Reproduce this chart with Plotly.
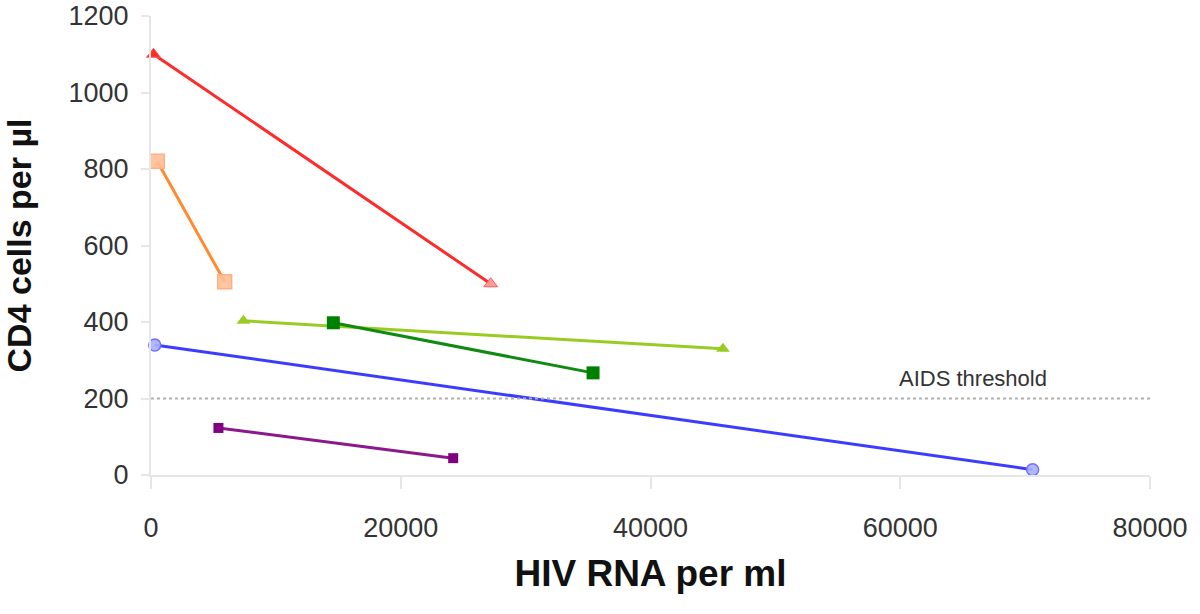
import plotly.graph_objects as go

# Data: each patient has two measurements (HIV RNA per ml, CD4 cells per µl)
red_x = [200, 27200]
red_y = [1100, 500]
orange_x = [500, 5900]
orange_y = [820, 505]
lightgreen_x = [7400, 45800]
lightgreen_y = [403, 330]
darkgreen_x = [14600, 35400]
darkgreen_y = [398, 267]
blue_x = [300, 70600]
blue_y = [340, 14]
purple_x = [5400, 24200]
purple_y = [123, 44]

threshold = 200
threshold_label = "AIDS threshold"
x_ticks = [0, 20000, 40000, 60000, 80000]
y_ticks = [0, 200, 400, 600, 800, 1000, 1200]

series = [
    (red_x, red_y, "#ff2a2a", dict(symbol="triangle-up", size=12, color=["#ff2a2a", "#ff9a9a"], line=dict(width=1, color="#ff5a5a"))),
    (orange_x, orange_y, "#ff8a30", dict(symbol="square", size=14, color="rgba(255,190,150,0.9)", line=dict(width=1.5, color="#ffb080"))),
    (lightgreen_x, lightgreen_y, "#99cc22", dict(symbol="triangle-up", size=12, color="#99cc22", line=dict(width=0))),
    (darkgreen_x, darkgreen_y, "#108a10", dict(symbol="square", size=13, color="#008000", line=dict(width=0))),
    (blue_x, blue_y, "#3c3cff", dict(symbol="circle", size=12, color="rgba(170,175,255,0.9)", line=dict(width=1.5, color="#7070ff"))),
    (purple_x, purple_y, "#8a1a8a", dict(symbol="square", size=10, color="#800080", line=dict(width=0))),
]

fig = go.Figure()
for xs, ys, col, mk in series:
    fig.add_trace(go.Scatter(x=xs, y=ys, mode="lines+markers",
                             line=dict(color=col, width=3), marker=mk,
                             cliponaxis=False, showlegend=False))

fig.add_shape(type="line", x0=0, x1=80000, y0=threshold, y1=threshold,
              xref="x", yref="y", line=dict(color="#b0b0b0", width=2, dash="dot"))
fig.add_annotation(x=65800, y=threshold, text=threshold_label, showarrow=False,
                   yanchor="bottom", yshift=6, xanchor="center",
                   font=dict(family="Liberation Sans, Arial", size=22, color="#333333"))

fig.update_layout(
    width=1200, height=614,
    margin=dict(l=151, r=50, t=16, b=139),
    paper_bgcolor="white", plot_bgcolor="white",
    font=dict(family="Liberation Sans, Arial", color="#333333"),
    xaxis=dict(range=[0, 80000], tickvals=x_ticks, ticktext=[str(v) for v in x_ticks],
               automargin=False, ticklabeloverflow="allow",
               showgrid=False, zeroline=False, showline=True, linecolor="#e6e6e6", linewidth=2,
               ticks="outside", ticklen=12, tickcolor="#e6e6e6", tickwidth=2,
               ticklabelstandoff=16,
               tickfont=dict(size=27, color="#333333"),
               title=dict(text="<b>HIV RNA per ml</b>", font=dict(size=37, color="#111111"), standoff=18)),
    yaxis=dict(range=[0, 1200], tickvals=y_ticks, ticktext=[str(v) for v in y_ticks],
               automargin=False, ticklabeloverflow="allow",
               showgrid=False, zeroline=False, showline=True, linecolor="#e6e6e6", linewidth=2,
               ticks="outside", ticklen=8, tickcolor="#e6e6e6", tickwidth=2,
               ticklabelstandoff=7,
               tickfont=dict(size=27, color="#333333"),
               title=dict(text="<b>CD4 cells per µl</b>", font=dict(size=34, color="#111111"), standoff=34)),
)

fig.write_html("out.html", config={"displayModeBar": False},
               post_script="document.body.style.margin='0';")
